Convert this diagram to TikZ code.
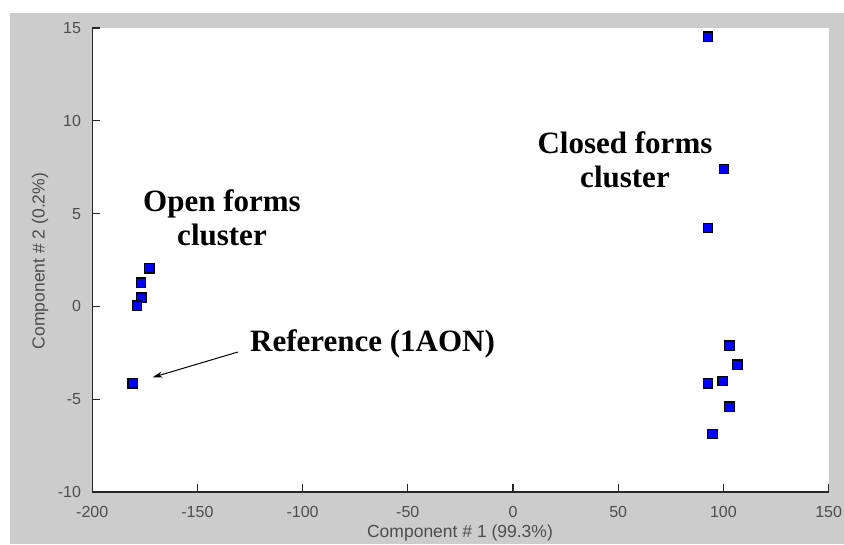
\documentclass[tikz,border=0pt]{standalone}
\usepackage{fontspec}
\setmainfont{Liberation Serif}
\setsansfont{Liberation Sans}
\usetikzlibrary{arrows.meta}

\definecolor{figgray}{RGB}{204,204,204}
\definecolor{axisdark}{RGB}{38,38,38}
\definecolor{ticktext}{RGB}{77,77,77}
\definecolor{markblue}{RGB}{0,0,255}

\tikzset{
  datapt/.style={rectangle, draw=black, fill=markblue, line width=1.3pt, minimum size=9.5pt, inner sep=0pt},
  ticklbl/.style={font=\sffamily\fontsize{16}{16}\selectfont, text=ticktext, inner sep=0pt},
  axislbl/.style={font=\sffamily\fontsize{17.5}{17.5}\selectfont, text=ticktext, inner sep=0pt},
  clusterlbl/.style={font=\bfseries\fontsize{31}{34}\selectfont, align=center, inner sep=0pt},
  axisline/.style={draw=axisdark, line width=1.3pt}
}

\begin{document}
\begin{tikzpicture}[x=1pt,y=1pt]
\useasboundingbox (0,0) rectangle (844,544);
\fill[figgray] (10,0) rectangle (844,531);

% plot area in data units
\begin{scope}[shift={(513pt,237.6pt)}, x=2.104pt, y=18.56pt]
\fill[white] (-200,-10) rectangle (150,15);
\draw[axisline] (-200,15) -- (-200,-10) -- (150,-10);

% ticks
\foreach \xv [count=\i] in {-200,-150,-100,-50,0,50,100,150} {
  \draw[axisline] (\xv,-10) -- ++(0,8pt);
  \node[ticklbl] (xt\i) at ([yshift=-20pt]\xv,-10) {\xv};
}
\foreach \yv [count=\i] in {-10,-5,0,5,10,15} {
  \draw[axisline] (-200,\yv) -- ++(8pt,0);
  \node[ticklbl, anchor=east] (yt\i) at ([xshift=-11pt]-200,\yv) {\yv};
}

% open forms
\node[datapt] (po1) at (-172.9,2.05) {};
\node[datapt] (po2) at (-176.8,1.28) {};
\node[datapt] (po3) at (-176.7,0.47) {};
\node[datapt] (po4) at (-178.7,0.04) {};
\node[datapt] (pref) at (-180.7,-4.14) {};

% closed forms
\node[datapt] (pc1) at (92.7,14.53) {};
\node[datapt] (pc2) at (100.3,7.40) {};
\node[datapt] (pc3) at (92.7,4.22) {};
\node[datapt] (pc4) at (102.9,-2.12) {};
\node[datapt] (pc5) at (106.6,-3.14) {};
\node[datapt] (pc6) at (92.7,-4.14) {};
\node[datapt] (pc7) at (99.7,-4.02) {};
\node[datapt] (pc8) at (102.9,-5.40) {};
\node[datapt] (pc9) at (94.8,-6.88) {};
\end{scope}

% axis titles
\node[axislbl] (xtitle) at (460,11) {Component \# 1 (99.3\%)};
\node[axislbl, rotate=90] (ytitle) at (40,283) {Component \# 2 (0.2\%)};

% annotations
\node[clusterlbl] (openlbl) at (222,326) {Open forms\\cluster};
\node[clusterlbl] (closedlbl) at (625,384) {Closed forms\\cluster};
\node[clusterlbl, anchor=base west] (reflbl) at (250,192) {Reference (1AON)};
\draw[-{Stealth[length=10pt,width=6pt]}, line width=1pt] ([xshift=-12pt]reflbl.base west) -- (pref) [shorten >=15pt];
\end{tikzpicture}
\end{document}
